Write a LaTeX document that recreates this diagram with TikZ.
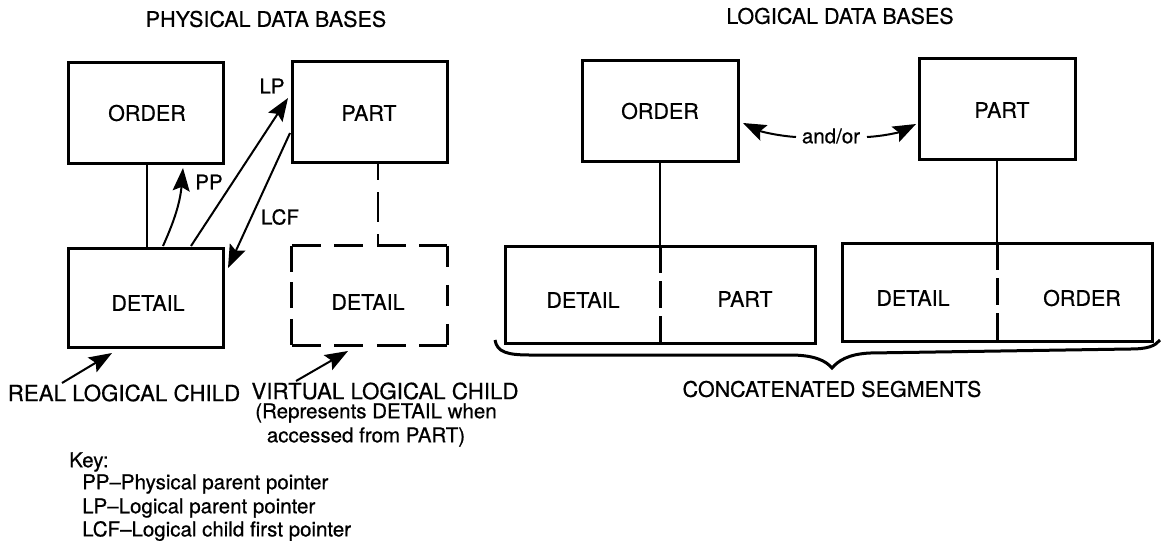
\documentclass[tikz,border=0pt]{standalone}
\usepackage{fontspec}
\setmainfont{TeX Gyre Heros}[RawFeature={embolden=0.6}]
\usetikzlibrary{arrows.meta}
\tikzset{
  seg/.style={draw=black,line width=3pt,inner sep=0pt},
  lab/.style={inner sep=0pt,font=\fontsize{21.5}{24}\selectfont},
  widelab/.style={inner sep=0pt,font=\fontsize{22.3}{24}\selectfont},
  small/.style={inner sep=0pt,font=\fontsize{20.5}{24}\selectfont},
  link/.style={line width=2pt},
  dashside/.style={line width=3pt},
  arr/.style={line width=2pt,-{Stealth[length=23pt,width=17pt,inset=4pt]}}
}
\begin{document}
\begin{tikzpicture}[x=1pt,y=-1pt]
\useasboundingbox (0,0) rectangle (1161,542);
\node[lab] at (266,19) {PHYSICAL DATA BASES};
\node[lab] at (840,16) {LOGICAL DATA BASES};
% physical data bases
\node[seg,minimum width=155pt,minimum height=101pt] (order) at (145.5,112.5) {};
\node[lab] (ordert) at (147,113) {ORDER};
\node[seg,minimum width=155pt,minimum height=101pt] (part) at (369.5,111.5) {};
\node[lab] (partt) at (369,113) {PART};
\node[seg,minimum width=155pt,minimum height=99pt] (detail) at (145.5,297.5) {};
\node[lab] (detailt) at (148,303) {DETAIL};
\node[minimum width=155pt,minimum height=99pt,inner sep=0pt] (vd) at (369.5,295.5) {};
\node[lab] (vdt) at (368,302) {DETAIL};
\draw[dashside,dash pattern=on 29pt off 13.5pt] (vd.north west) -- (vd.north east);
\draw[dashside,dash pattern=on 29pt off 13.5pt] (vd.south west) -- (vd.south east);
\draw[dashside,dash pattern=on 26pt off 10.5pt] (vd.north west) -- (vd.south west);
\draw[dashside,dash pattern=on 21pt off 18pt] (vd.north east) -- (vd.south east);
\draw[link] (147,163) -- (147,248);
\draw[link,dash pattern=on 18pt off 12pt on 30pt off 12pt on 30pt off 0pt] (378,162) -- (378,246);
\coordinate (ppa) at (163,246); \coordinate (ppb) at (183,168);
\draw[arr] (ppa) .. controls (172,226) and (180,205) .. (ppb);
\coordinate (lpa) at (191,246); \coordinate (lpb) at (288,98);
\draw[arr] (lpa) -- (lpb);
\coordinate (lca) at (290,133); \coordinate (lcb) at (228,268);
\draw[arr] (lca) -- (lcb);
\node[small] at (272,86) {LP};
\node[small] at (209,182) {PP};
\node[small] at (280,217) {LCF};
% logical data bases
\node[seg,minimum width=156pt,minimum height=101pt] (lorder) at (660,110.5) {};
\node[lab] at (660,111) {ORDER};
\node[seg,minimum width=156pt,minimum height=101pt] (lpart) at (997,108.5) {};
\node[lab] at (1002,110) {PART};
\node[seg,minimum width=310pt,minimum height=97pt] (c1) at (660,294.5) {};
\node[lab] at (583,300) {DETAIL};
\node[lab] at (745,299) {PART};
\node[seg,minimum width=310pt,minimum height=98pt] (c2) at (997,292.5) {};
\node[lab] at (913,298) {DETAIL};
\node[lab] at (1082,298) {ORDER};
\draw[link] (lorder.south) -- (lorder.south |- c1.north);
\draw[link] (lpart.south) -- (lpart.south |- c2.north);
\draw[dashside,dash pattern=on 27pt off 8pt] (660,246) -- (660,343);
\draw[dashside,dash pattern=on 27pt off 8pt] (997,243) -- (997,342);
\node[small] (andor) at (831,136) {and/or};
\coordinate (aol) at (743,123); \coordinate (aor) at (916,124);
\draw[arr] (796,137) .. controls (780,136) and (762,132) .. (aol);
\draw[arr] (867,137) .. controls (885,136) and (900,132) .. (aor);
\draw[line width=3pt] (495,340) .. controls (497,352) and (507,355) .. (530,355) -- (790,355)
  .. controls (815,355) and (826,361) .. (832,368) .. controls (838,361) and (848,354) .. (870,353)
  -- (1130,349) .. controls (1148,349) and (1155,346) .. (1160,340);
\node[lab] at (832,389) {CONCATENATED SEGMENTS};
\node[widelab] at (124,393) {REAL LOGICAL CHILD};
\node[widelab] at (385,391) {VIRTUAL LOGICAL CHILD};
\node[small] at (376,413) {(Represents DETAIL when};
\node[small] at (366,437) {accessed from PART)};
\coordinate (r1) at (62,383); \coordinate (r2) at (112,353);
\draw[arr] (r1) -- (r2);
\coordinate (v1) at (296,381); \coordinate (v2) at (348,351);
\draw[arr] (v1) -- (v2);
\node[small,anchor=west] at (69,462) {Key:};
\node[small,anchor=west] at (82,484) {PP--Physical parent pointer};
\node[small,anchor=west] at (82,508) {LP--Logical parent pointer};
\node[small,anchor=west] at (82,531) {LCF--Logical child first pointer};
\end{tikzpicture}
\end{document}
